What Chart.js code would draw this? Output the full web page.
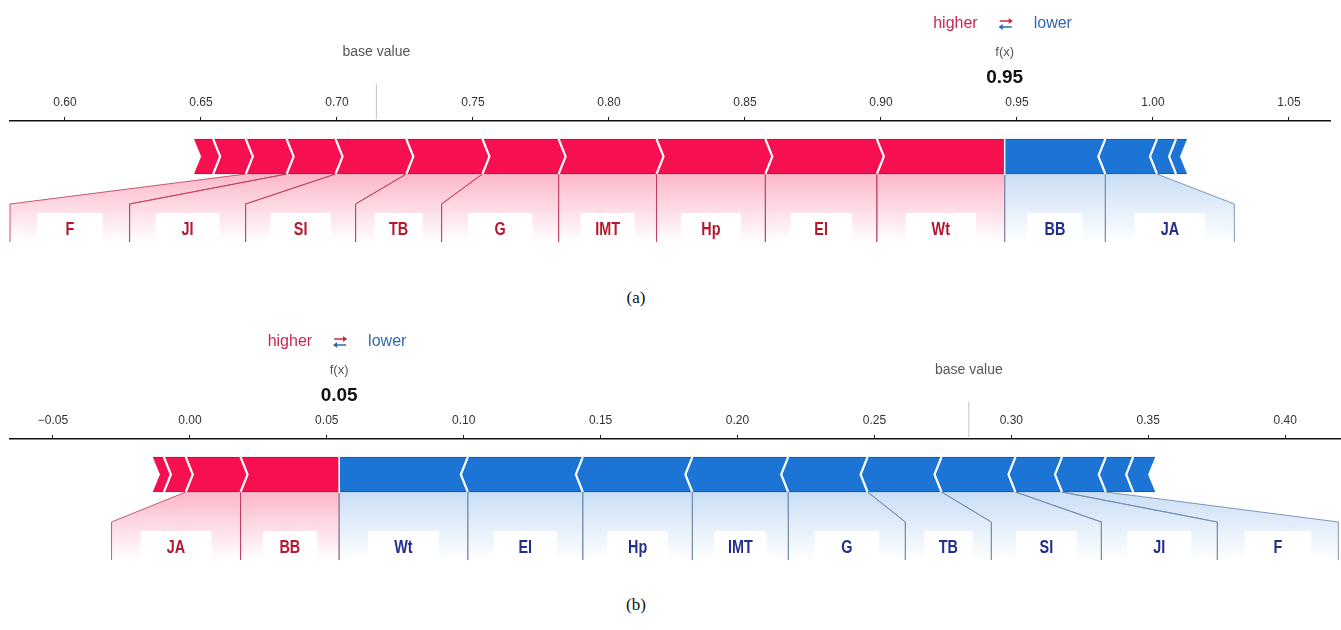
<!DOCTYPE html>
<html lang="en">
<head>
<meta charset="UTF-8">
<meta name="viewport" content="width=device-width, initial-scale=1.0">
<title>Force plots (a) and (b)</title>
<script src="https://cdn.jsdelivr.net/npm/chart.js"></script>
<style>
    body {
        margin: 0;
        background: #fff;
        width: 1341px;
        height: 630px;
        overflow: hidden;
        position: relative;
    }
    canvas {
        position: absolute;
        left: 0;
    }
    #plot-a { top: 0; }
    #plot-b { top: 318px; }
    .caption {
        position: absolute;
        left: 0;
        width: 1272px;
        text-align: center;
        font-family: "Liberation Serif", serif;
        font-size: 17px;
        line-height: 20px;
        color: #111;
    }
    #cap-a { top: 288px; }
    #cap-b { top: 595px; }
</style>
</head>
<body>
<canvas id="plot-a" width="1341" height="270"></canvas>
<div class="caption" id="cap-a">(a)</div>
<canvas id="plot-b" width="1341" height="270"></canvas>
<div class="caption" id="cap-b">(b)</div>

<script>
    // panel (a) - contributions ordered from f(x) outwards, '' = unlabelled small feature
    const redNamesA = ['Wt', 'EI', 'Hp', 'IMT', 'G', 'TB', 'SI', 'JI', 'F', '', ''];
    const redValuesA = [0.047, 0.041, 0.040, 0.036, 0.028, 0.028, 0.026, 0.018, 0.015, 0.012, 0.007];
    const blueNamesA = ['BB', 'JA', '', ''];
    const blueValuesA = [0.037, 0.019, 0.007, 0.004];
    const baseValueA = 0.7145;
    const ticksA = [0.60, 0.65, 0.70, 0.75, 0.80, 0.85, 0.90, 0.95, 1.00, 1.05];

    // panel (b)
    const redNamesB = ['BB', 'JA', '', ''];
    const redValuesB = [0.036, 0.020, 0.008, 0.004];
    const blueNamesB = ['Wt', 'EI', 'Hp', 'IMT', 'G', 'TB', 'SI', 'JI', 'F', '', ''];
    const blueValuesB = [0.047, 0.042, 0.040, 0.035, 0.029, 0.027, 0.027, 0.017, 0.016, 0.010, 0.008];
    const baseValueB = 0.2845;
    const ticksB = [-0.05, 0.00, 0.05, 0.10, 0.15, 0.20, 0.25, 0.30, 0.35, 0.40];

    const RED = '#f7104f';
    const RED_EDGE = '#c50b3d';
    const BLUE = '#1c74d4';
    const BLUE_EDGE = '#0f57ab';
    const TIP = 7;

    // minimum width (px) of the label slot under the bar, like the text width in the original plot
    const labelMinWidth = { G: 117, TB: 86, SI: 110, JI: 116, F: 121, IMT: 96, JA: 129 };
    const DEFAULT_LABEL_W = 90;

    const sideStyle = {
        red: {
            shade: 'rgba(245,18,78,0.30)', shadeEnd: 'rgba(245,18,78,0)',
            line: 'rgba(190,60,95,0.85)', text: '#b3182f'
        },
        blue: {
            shade: 'rgba(28,116,212,0.24)', shadeEnd: 'rgba(28,116,212,0)',
            line: 'rgba(115,140,172,0.9)', text: '#232d8c'
        }
    };

    function sum(arr) {
        return arr.reduce((a, b) => a + b, 0);
    }

    function buildSegments(redNames, redValues, blueNames, blueValues, base) {
        const fx = base + sum(redValues) - sum(blueValues);
        const red = [];
        let pos = fx;
        redValues.forEach((v, i) => {
            red.push({ name: redNames[i], from: pos - v, to: pos });
            pos -= v;
        });
        const blue = [];
        pos = fx;
        blueValues.forEach((v, i) => {
            blue.push({ name: blueNames[i], from: pos, to: pos + v });
            pos += v;
        });
        return { fx, base, red, blue, redStart: red[red.length - 1].from, blueEnd: blue[blue.length - 1].to };
    }

    function fmtTick(v) {
        if (Math.abs(v) < 1e-9) return '0.00';
        return v < 0 ? '\u2212' + Math.abs(v).toFixed(2) : v.toFixed(2);
    }

    function slotWidth(name, segW) {
        return Math.max(segW, labelMinWidth[name] || DEFAULT_LABEL_W);
    }

    function drawLabel(ctx, sL, sR, lL, lR, y0, yBend, yBottom, side, name) {
        const c = sideStyle[side];
        const grad = ctx.createLinearGradient(0, y0, 0, yBottom);
        grad.addColorStop(0, c.shade);
        grad.addColorStop(1, c.shadeEnd);
        ctx.fillStyle = grad;
        ctx.beginPath();
        ctx.moveTo(sL, y0);
        ctx.lineTo(sR, y0);
        ctx.lineTo(lR, yBend);
        ctx.lineTo(lR, yBottom);
        ctx.lineTo(lL, yBottom);
        ctx.lineTo(lL, yBend);
        ctx.closePath();
        ctx.fill();

        ctx.strokeStyle = c.line;
        ctx.lineWidth = 1;
        ctx.beginPath();
        ctx.moveTo(sL, y0);
        ctx.lineTo(lL, yBend);
        ctx.lineTo(lL, yBottom);
        ctx.moveTo(sR, y0);
        ctx.lineTo(lR, yBend);
        ctx.lineTo(lR, yBottom);
        ctx.stroke();

        const cx = (lL + lR) / 2;
        const w = Math.min(75, Math.max(48, (lR - lL) * 0.55));
        ctx.fillStyle = '#fff';
        ctx.fillRect(cx - w / 2, yBend + 9, w, yBottom - yBend - 9);

        // condensed bold label text
        ctx.save();
        ctx.translate(cx, yBend + 26);
        ctx.scale(0.8, 1);
        ctx.fillStyle = c.text;
        ctx.font = 'bold 18px "Liberation Sans", Arial, sans-serif';
        ctx.textAlign = 'center';
        ctx.textBaseline = 'middle';
        ctx.fillText(name, 0, 0);
        ctx.restore();
    }

    function drawArrow(ctx, x, y, dir, color) {
        ctx.strokeStyle = color;
        ctx.fillStyle = color;
        ctx.lineWidth = 1.5;
        ctx.beginPath();
        ctx.moveTo(x - 6, y);
        ctx.lineTo(x + 6, y);
        ctx.stroke();
        const hx = dir > 0 ? x + 7 : x - 7;
        ctx.beginPath();
        ctx.moveTo(hx, y);
        ctx.lineTo(hx - dir * 4, y - 3);
        ctx.lineTo(hx - dir * 4, y + 3);
        ctx.closePath();
        ctx.fill();
    }

    function forcePlugin(seg) {
        return {
            id: 'force',
            beforeDatasetsDraw(chart) {
                const ctx = chart.ctx;
                const xs = chart.scales.x;
                const area = chart.chartArea;
                const axisY = area.top;
                const bar = chart.getDatasetMeta(0).data[0];
                const barBottom = bar.y + bar.height / 2;
                const bend = axisY + 83;
                const bottom = axisY + 121;
                const px = v => xs.getPixelForValue(v);

                ctx.save();
                // red labels, laid out leftwards from f(x)
                let edge = Infinity;
                seg.red.forEach(s => {
                    if (!s.name) return;
                    const l = px(s.from), r = px(s.to);
                    const right = Math.min(r, edge);
                    const left = right - slotWidth(s.name, r - l);
                    edge = left;
                    drawLabel(ctx, l, r, Math.max(left, area.left), right, barBottom, bend, bottom, 'red', s.name);
                });
                // blue labels, laid out rightwards from f(x)
                edge = -Infinity;
                seg.blue.forEach(s => {
                    if (!s.name) return;
                    const l = px(s.from), r = px(s.to);
                    const left = Math.max(l, edge);
                    const right = left + slotWidth(s.name, r - l);
                    edge = right;
                    drawLabel(ctx, l, r, left, Math.min(right, area.right - 1), barBottom, bend, bottom, 'blue', s.name);
                });

                // higher / lower legend, f(x) and base value
                const fxPx = px(seg.fx);
                const basePx = px(seg.base);
                ctx.textBaseline = 'middle';
                ctx.font = '16px "Liberation Sans", Arial, sans-serif';
                ctx.textAlign = 'right';
                ctx.fillStyle = '#c8284f';
                ctx.fillText('higher', fxPx - 27, axisY - 97);
                ctx.textAlign = 'left';
                ctx.fillStyle = '#2f67b3';
                ctx.fillText('lower', fxPx + 29, axisY - 97);
                drawArrow(ctx, fxPx + 1, axisY - 100, 1, '#c8284f');
                drawArrow(ctx, fxPx + 1, axisY - 94, -1, '#2f67b3');

                ctx.textAlign = 'center';
                ctx.fillStyle = '#555';
                ctx.font = '13px "Liberation Sans", Arial, sans-serif';
                ctx.fillText('f(x)', fxPx, axisY - 69);
                ctx.fillStyle = '#111';
                ctx.font = 'bold 19px "Liberation Sans", Arial, sans-serif';
                ctx.fillText(seg.fx.toFixed(2), fxPx, axisY - 43);

                ctx.fillStyle = '#555';
                ctx.font = '14px "Liberation Sans", Arial, sans-serif';
                ctx.fillText('base value', basePx, axisY - 69);
                ctx.strokeStyle = '#c4c4c4';
                ctx.lineWidth = 1;
                ctx.beginPath();
                ctx.moveTo(basePx, axisY - 37);
                ctx.lineTo(basePx, axisY - 2);
                ctx.stroke();
                ctx.restore();
            },
            afterDatasetsDraw(chart) {
                const ctx = chart.ctx;
                const xs = chart.scales.x;
                const bar = chart.getDatasetMeta(0).data[0];
                const top = bar.y - bar.height / 2;
                const bottom = bar.y + bar.height / 2;
                const mid = bar.y;
                const px = v => xs.getPixelForValue(v);

                ctx.save();
                ctx.strokeStyle = '#fff';
                ctx.fillStyle = '#fff';
                ctx.lineWidth = 2.2;
                ctx.lineJoin = 'miter';
                // red chevrons ">" between segments
                seg.red.slice(0, -1).forEach(s => {
                    const b = px(s.from);
                    ctx.beginPath();
                    ctx.moveTo(b, top);
                    ctx.lineTo(b + TIP, mid);
                    ctx.lineTo(b, bottom);
                    ctx.stroke();
                });
                // blue chevrons "<" between segments
                seg.blue.slice(0, -1).forEach(s => {
                    const b = px(s.to);
                    ctx.beginPath();
                    ctx.moveTo(b, top);
                    ctx.lineTo(b - TIP, mid);
                    ctx.lineTo(b, bottom);
                    ctx.stroke();
                });
                // notched outer ends
                const x0 = px(seg.redStart);
                ctx.beginPath();
                ctx.moveTo(x0 - 1, top - 2);
                ctx.lineTo(x0 + TIP, mid);
                ctx.lineTo(x0 - 1, bottom + 2);
                ctx.closePath();
                ctx.fill();
                const x1 = px(seg.blueEnd);
                ctx.beginPath();
                ctx.moveTo(x1 + 1, top - 2);
                ctx.lineTo(x1 - TIP, mid);
                ctx.lineTo(x1 + 1, bottom + 2);
                ctx.closePath();
                ctx.fill();
                // gap at f(x)
                const f = px(seg.fx);
                ctx.lineWidth = 1.5;
                ctx.beginPath();
                ctx.moveTo(f, top - 1);
                ctx.lineTo(f, bottom + 1);
                ctx.stroke();
                ctx.restore();
            }
        };
    }

    function makeForcePlot(canvasId, seg, ticks, xMin, xMax, padRight) {
        return new Chart(document.getElementById(canvasId), {
            type: 'bar',
            data: {
                labels: [''],
                datasets: [
                    {
                        data: [[seg.redStart, seg.fx]],
                        backgroundColor: RED,
                        borderColor: RED_EDGE,
                        borderWidth: { top: 1, bottom: 1, left: 0, right: 0 },
                        borderSkipped: false,
                        barThickness: 35,
                        grouped: false
                    },
                    {
                        data: [[seg.fx, seg.blueEnd]],
                        backgroundColor: BLUE,
                        borderColor: BLUE_EDGE,
                        borderWidth: { top: 1, bottom: 1, left: 0, right: 0 },
                        borderSkipped: false,
                        barThickness: 35,
                        grouped: false
                    }
                ]
            },
            options: {
                indexAxis: 'y',
                responsive: false,
                animation: false,
                layout: { padding: { top: 91, left: 10, right: padRight, bottom: 78 } },
                scales: {
                    x: {
                        type: 'linear',
                        position: 'top',
                        min: xMin,
                        max: xMax,
                        afterFit(scale) { scale.height = 30; },
                        afterBuildTicks(scale) { scale.ticks = ticks.map(v => ({ value: v })); },
                        grid: { drawOnChartArea: false, drawTicks: true, tickLength: 4, color: '#222', lineWidth: 1 },
                        border: { display: true, color: '#111', width: 1.5 },
                        ticks: {
                            padding: 7,
                            color: '#333',
                            autoSkip: false,
                            maxRotation: 0,
                            font: { family: '"Liberation Sans", Arial, sans-serif', size: 12 },
                            callback: v => fmtTick(v)
                        }
                    },
                    y: { display: false }
                },
                plugins: {
                    legend: { display: false },
                    tooltip: { enabled: false }
                }
            },
            plugins: [forcePlugin(seg)]
        });
    }

    const segA = buildSegments(redNamesA, redValuesA, blueNamesA, blueValuesA, baseValueA);
    const segB = buildSegments(redNamesB, redValuesB, blueNamesB, blueValuesB, baseValueB);

    makeForcePlot('plot-a', segA, ticksA, 0.5798, 1.0651, 11);
    makeForcePlot('plot-b', segB, ticksB, -0.0657, 0.4204, 0);
</script>
</body>
</html>
